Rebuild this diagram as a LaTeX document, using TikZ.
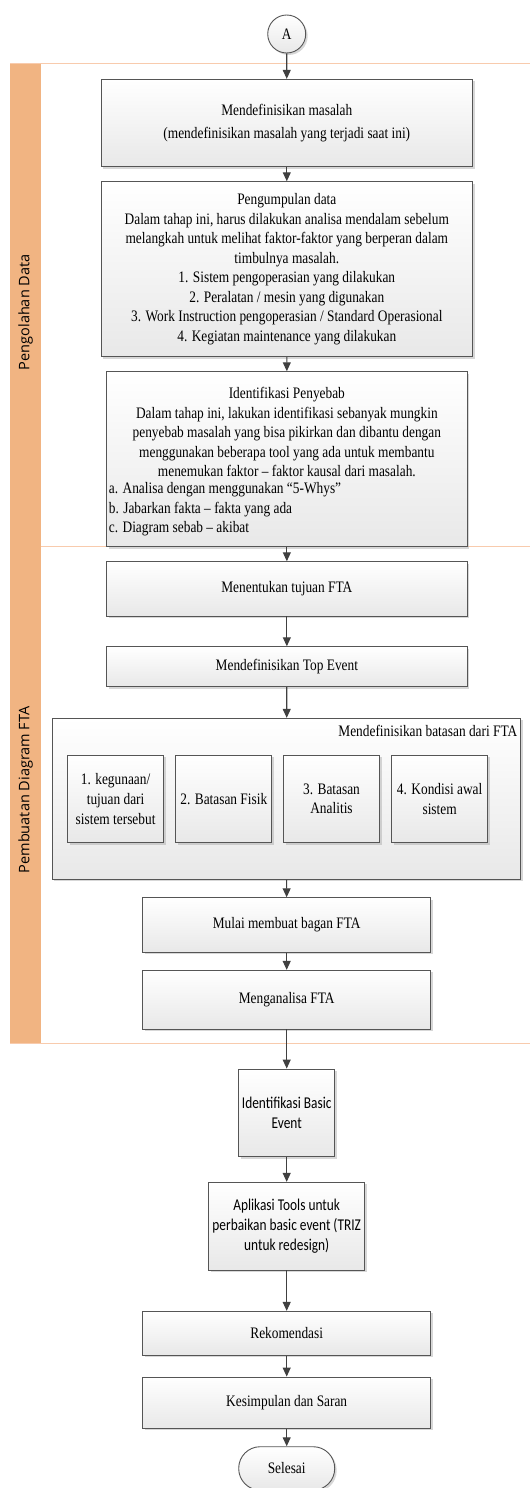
\documentclass[tikz,border=0pt]{standalone}
\usepackage{fontspec}
\setmainfont{Liberation Serif}[FakeStretch=0.835]
\newfontfamily\calfont{Carlito}[FakeStretch=0.81]
\newfontfamily\lanefont{Open Sans}
\usetikzlibrary{arrows.meta,shadows}
\definecolor{lanestrip}{HTML}{F1B482}
\definecolor{laneline}{HTML}{F8CBAD}
\definecolor{boxline}{HTML}{555555}
\definecolor{arrowc}{HTML}{404040}
\begin{document}
\begin{tikzpicture}[x=1pt,y=-1pt,
  boxbase/.style={draw=boxline, line width=0.9pt, top color=white, bottom color=black!9,
    drop shadow={shadow xshift=2pt,shadow yshift=-2pt,fill=black!35,opacity=0.45},
    inner sep=0pt, align=center},
  box/.style={boxbase, font=\fontsize{16}{19.5}\selectfont},
  sbox/.style={boxbase, font=\calfont\fontsize{16.5}{19.8}\selectfont},
  txt/.style={inner sep=0pt, align=center, font=\fontsize{16}{19.5}\selectfont},
  lanelbl/.style={inner sep=0pt, rotate=90, font=\lanefont\fontsize{14.5}{17}\selectfont},
  flow/.style={draw=arrowc, line width=1.1pt, -{Triangle[length=9pt,width=8pt]}},
  laneedge/.style={draw=laneline, line width=1.6pt}
]
\useasboundingbox (0,0) rectangle (530,1488);

% swimlanes
\fill[lanestrip] (10.1,63.5) rectangle (40.6,1043.3);
\draw[laneedge] (10.1,63.5) -- (530,63.5);
\draw[laneedge] (40.6,546.5) -- (530,546.5);
\draw[laneedge] (10.1,1043.3) -- (530,1043.3);
\node[lanelbl] (lane1) at (25.7,312.3) {Pengolahan Data};
\node[lanelbl] (lane2) at (25.7,789.8) {Pembuatan Diagram FTA};

% connector A
\node[boxbase, circle, minimum size=38pt, font=\fontsize{16}{17}\selectfont] (A) at (286.7,34) {A};

% Pengolahan data
\node[box, minimum width=371.6pt, minimum height=87.4pt, font=\fontsize{16}{23}\selectfont] (b1) at (286.8,123) {Mendefinisikan masalah\\(mendefinisikan masalah yang terjadi saat ini)};
\node[box, minimum width=371.6pt, minimum height=175pt] (b2) at (286.8,269.2) {Pengumpulan data\\Dalam tahap ini, harus dilakukan analisa mendalam sebelum\\melangkah untuk melihat faktor-faktor yang berperan dalam\\timbulnya masalah.\\1. Sistem pengoperasian yang dilakukan\\2. Peralatan / mesin yang digunakan\\3. Work Instruction pengoperasian / Standard Operasional\\4. Kegiatan maintenance yang dilakukan};
\node[box, minimum width=360.7pt, minimum height=175pt] (b3) at (286.85,459.2) {};
\node[txt] (b3a) at (286.85,432) {Identifikasi Penyebab\\Dalam tahap ini, lakukan identifikasi sebanyak mungkin\\penyebab masalah yang bisa pikirkan dan dibantu dengan\\menggunakan beberapa tool yang ada untuk membantu\\menemukan faktor -- faktor kausal dari masalah.};
\node[txt, align=left, anchor=west] (b3b) at (108.7,509.5) {a. Analisa dengan menggunakan ``5-Whys''\\b. Jabarkan fakta -- fakta yang ada\\c. Diagram sebab -- akibat};

% Pembuatan diagram FTA
\node[box, minimum width=360.7pt, minimum height=54.3pt] (b4) at (286.85,588.85) {Menentukan tujuan FTA};
\node[box, minimum width=360.7pt, minimum height=40pt] (b5) at (286.85,666.7) {Mendefinisikan Top Event};
\node[box, minimum width=468.2pt, minimum height=161pt] (cont) at (286.5,798.8) {};
\node[txt, anchor=east] (conttitle) at (517.5,731) {Mendefinisikan batasan dari FTA};
\node[box, minimum width=96pt, minimum height=87.7pt, font=\fontsize{16}{19.7}\selectfont] (i1) at (115.6,798.85) {1. kegunaan/\\tujuan dari\\sistem tersebut};
\node[box, minimum width=96pt, minimum height=87.7pt, font=\fontsize{16}{19.7}\selectfont] (i2) at (223.8,798.85) {2. Batasan Fisik};
\node[box, minimum width=96pt, minimum height=87.7pt, font=\fontsize{16}{19.7}\selectfont] (i3) at (331.5,798.85) {3. Batasan\\Analitis};
\node[box, minimum width=96pt, minimum height=87.7pt, font=\fontsize{16}{19.7}\selectfont] (i4) at (439.65,798.85) {4. Kondisi awal\\sistem};
\node[box, minimum width=288pt, minimum height=54.6pt] (b6) at (286.7,925) {Mulai membuat bagan FTA};
\node[box, minimum width=288pt, minimum height=58.7pt] (b7) at (286.7,999.65) {Menganalisa FTA};

% after lanes
\node[sbox, minimum width=96pt, minimum height=87.7pt] (b8) at (286.7,1112.85) {Identifikasi Basic\\Event};
\node[sbox, minimum width=156.2pt, minimum height=87.7pt] (b9) at (286.7,1226.15) {Aplikasi Tools untuk\\perbaikan basic event (TRIZ\\untuk redesign)};
\node[box, minimum width=288pt, minimum height=44pt] (b10) at (286.7,1333.3) {Rekomendasi};
\node[box, minimum width=288pt, minimum height=51.3pt] (b11) at (286.7,1402.65) {Kesimpulan dan Saran};
\node[box, minimum width=96pt, minimum height=43.4pt, rounded corners=21.5pt] (end) at (286.7,1468.4) {Selesai};

% connectors
\draw[flow] (A) -- (b1);
\draw[flow] (b1) -- (b2);
\draw[flow] (b2) -- (b3);
\draw[flow] (b3) -- (b4);
\draw[flow] (b4) -- (b5);
\draw[flow] (b5) -- (cont);
\draw[flow] (cont) -- (b6);
\draw[flow] (b6) -- (b7);
\draw[flow] (b7) -- (b8);
\draw[flow] (b8) -- (b9);
\draw[flow] (b9) -- (b10);
\draw[flow] (b10) -- (b11);
\draw[flow] (b11) -- (end);
\end{tikzpicture}
\end{document}
